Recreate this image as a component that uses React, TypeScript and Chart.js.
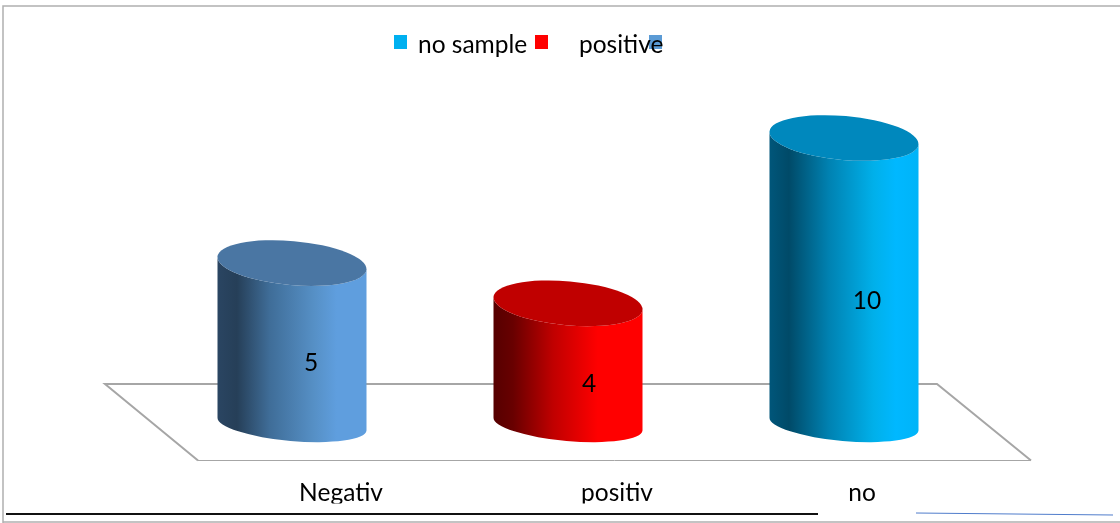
import React, { useEffect, useRef } from "react";
import { Chart, registerables } from "chart.js";

Chart.register(...registerables);

const categories = ["Negativ", "positiv", "no"];
const seriesValues = [5, 4, 10];
const legendLabels = ["no sample", "positive"];
const legendColors = ["#00b0f0", "#ff0000", "#5b9bd5"];

const FONT = "24.5px Lato, Carlito, 'Open Sans', sans-serif";
const TILT = (5 * Math.PI) / 180;
const RY_TOP = 22;
const RY_BOTTOM = 17;

const gradients = [
  [[0, "#2a4562"], [0.13, "#263f58"], [0.35, "#3f6d98"], [0.65, "#5690c6"], [0.8, "#5f9ede"], [1, "#5f9ede"]],
  [[0, "#560000"], [0.13, "#680000"], [0.4, "#c00000"], [0.7, "#ff0000"], [1, "#ff0000"]],
  [[0, "#00567a"], [0.13, "#004a68"], [0.4, "#0082b2"], [0.7, "#00b0ea"], [0.85, "#00b8ff"], [1, "#00b4f8"]],
];
const capColors = ["#4a76a3", "#c00000", "#0088bd"];

const floorPlugin = {
  id: "floor",
  beforeDatasetsDraw(chart: any) {
    const { ctx } = chart;
    ctx.save();
    ctx.strokeStyle = "#a6a6a6";
    ctx.lineWidth = 2;
    ctx.beginPath();
    ctx.moveTo(198, 460.5);
    ctx.lineTo(105, 384);
    ctx.lineTo(937, 384);
    ctx.lineTo(1031, 460.5);
    ctx.stroke();
    ctx.lineWidth = 1;
    ctx.beginPath();
    ctx.moveTo(198, 460.5);
    ctx.lineTo(1031, 460.5);
    ctx.stroke();
    ctx.restore();
  },
};

const valueOffsets = [19, 21, 23];

const cylinderPlugin = {
  id: "cylinders",
  afterDatasetsDraw(chart: any) {
    const { ctx } = chart;
    const meta = chart.getDatasetMeta(0);
    meta.data.forEach((bar: any, i: number) => {
      const half = bar.width / 2;
      const rx = half / Math.cos(TILT);
      const left = bar.x - half;
      const g = ctx.createLinearGradient(left, 0, left + bar.width, 0);
      gradients[i].forEach(([s, c]: any) => g.addColorStop(s, c));
      ctx.save();
      ctx.fillStyle = g;
      ctx.beginPath();
      ctx.ellipse(bar.x, bar.base, rx, RY_BOTTOM, TILT, 0, Math.PI);
      ctx.ellipse(bar.x, bar.y, rx, RY_TOP, TILT, Math.PI, 0, true);
      ctx.closePath();
      ctx.fill();
      ctx.fillStyle = capColors[i];
      ctx.beginPath();
      ctx.ellipse(bar.x, bar.y, rx, RY_TOP, TILT, 0, Math.PI * 2);
      ctx.fill();
      ctx.fillStyle = "#000";
      ctx.font = FONT;
      ctx.textAlign = "center";
      ctx.textBaseline = "middle";
      ctx.fillText(String(seriesValues[i]), bar.x + valueOffsets[i], (bar.y + bar.base) / 2 + 20);
      ctx.restore();
    });
  },
};

const labelOffsets = [49, 49, 18];
const legendSquareX = [394, 535, 649];
const legendTextX = [418, 579];

const framePlugin = {
  id: "frame",
  afterDraw(chart: any) {
    const { ctx } = chart;
    const meta = chart.getDatasetMeta(0);
    ctx.save();
    ctx.save();
    ctx.beginPath();
    ctx.rect(0, 0, 1120, 503.5);
    ctx.clip();
    ctx.fillStyle = "#000";
    ctx.font = FONT;
    ctx.textAlign = "center";
    ctx.textBaseline = "alphabetic";
    meta.data.forEach((bar: any, i: number) => {
      ctx.fillText(categories[i], bar.x + labelOffsets[i], 501);
    });
    ctx.restore();

    legendColors.forEach((c, i) => {
      ctx.fillStyle = c;
      ctx.fillRect(legendSquareX[i], 35, 13, 14);
    });
    ctx.fillStyle = "#000";
    ctx.font = FONT;
    ctx.textAlign = "left";
    ctx.textBaseline = "alphabetic";
    legendLabels.forEach((t, i) => ctx.fillText(t, legendTextX[i], 53));

    ctx.strokeStyle = "#b0b0b0";
    ctx.lineWidth = 1.5;
    ctx.beginPath();
    ctx.moveTo(3, 523);
    ctx.lineTo(3, 6);
    ctx.lineTo(1120, 6);
    ctx.moveTo(3, 522);
    ctx.lineTo(1120, 522);
    ctx.stroke();
    ctx.strokeStyle = "#111";
    ctx.lineWidth = 2;
    ctx.beginPath();
    ctx.moveTo(6, 514);
    ctx.lineTo(818, 514);
    ctx.stroke();
    ctx.strokeStyle = "#4f7ccb";
    ctx.lineWidth = 1;
    ctx.beginPath();
    ctx.moveTo(916, 513);
    ctx.lineTo(1113, 515);
    ctx.stroke();
    ctx.restore();
  },
};

export default function App() {
  const ref = useRef<HTMLCanvasElement>(null);
  useEffect(() => {
    const chart = new Chart(ref.current as HTMLCanvasElement, {
      type: "bar",
      data: {
        labels: categories,
        datasets: [
          {
            data: seriesValues,
            backgroundColor: "transparent",
            barThickness: 149,
            borderWidth: 0,
          },
        ],
      },
      options: {
        animation: false,
        responsive: false,
        devicePixelRatio: 1,
        layout: { padding: { left: 154, right: 138, top: 138, bottom: 99 } },
        scales: {
          x: { display: false },
          y: { display: false, type: "logarithmic", min: 2.05, max: 10 },
        },
        plugins: { legend: { display: false }, tooltip: { enabled: false } },
      },
      plugins: [floorPlugin, cylinderPlugin, framePlugin],
    } as any);
    return () => chart.destroy();
  }, []);
  return (
    <div style={{ position: "fixed", left: 0, top: 0, width: 1120, height: 523, background: "#fff" }}>
      <canvas ref={ref} width={1120} height={523} style={{ display: "block" }} />
    </div>
  );
}
